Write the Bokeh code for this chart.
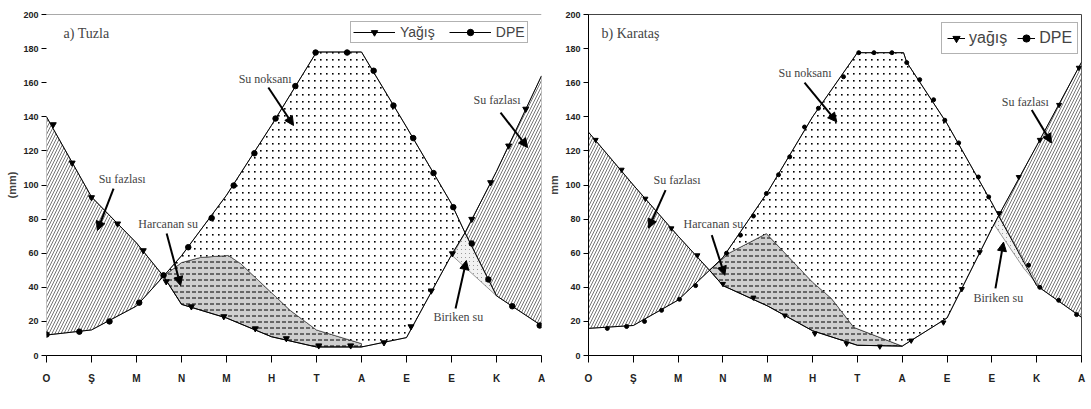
from bokeh.plotting import figure
from bokeh.layouts import row
from bokeh.models import (FixedTicker, Label, Arrow, NormalHead, Span, Legend,
                          LegendItem, Range1d, CanvasTexture)
from bokeh.embed import file_html
from bokeh.resources import INLINE

# ---------------- data ----------------
months = ["O", "Ş", "M", "N", "M", "H", "T", "A", "E", "E", "K", "A"]
month_pos = list(range(12))
y_ticks = [0, 20, 40, 60, 80, 100, 120, 140, 160, 180, 200]

# a) Tuzla  (x in month units, y in mm)
tz_precip_x = [0, 1, 2, 2.6, 3, 4, 5, 6, 7, 8, 9, 9.3, 10, 11]
tz_precip_y = [140, 93, 66, 46.5, 30, 22, 11, 5, 5, 10.5, 59, 72, 108, 164]
tz_dpe_x = [0, 1, 2, 2.6, 3, 4, 5, 6, 7, 8, 9, 9.3, 10, 11]
tz_dpe_y = [12, 15, 29, 46.5, 58.5, 94, 135, 178, 178, 134, 89, 72, 35, 17.5]
tz_aet_x = [2.6, 3.0, 3.42, 4.04, 4.31, 5.42, 6.0, 7.0]
tz_aet_y = [46.5, 54.5, 57.5, 58.7, 54, 26.4, 15, 7]
tz_recharge_x = [9.02, 9.3, 10.0]
tz_recharge_y = [58.5, 72, 35]
tz_precip_mx = [0.15, 0.57, 1.0, 1.58, 2.15, 2.66, 3.22, 3.94, 4.64, 5.33, 6.05,
                6.76, 7.5, 8.1, 8.55, 9.02, 9.45, 9.87, 10.27, 10.65]
tz_precip_my = [135.5, 113, 92.7, 77.3, 61.6, 43.4, 28.7, 22.9, 15.8, 10, 5.8,
                5.8, 7.6, 17, 38, 59.8, 80, 101.5, 123, 144.6]
tz_dpe_mx = [0, 0.73, 1.4, 2.06, 2.6, 3.15, 3.67, 4.16, 4.62, 5.09, 5.53, 5.98,
             6.68, 7.27, 7.71, 8.15, 8.6, 9.04, 9.45, 9.82, 10.35, 10.96]
tz_dpe_my = [12.3, 14, 20, 31, 47, 63.5, 80.6, 99.7, 118.6, 139, 158, 177.7,
             177.7, 167, 146.6, 127.5, 107, 87, 65.7, 44.6, 28.9, 17.6]
tz_cross = [2.6, 7.0, 9.3]   # surplus end, storage-use end, deficit end

# b) Karataş
kr_precip_x = [0, 1, 2, 2.7, 3, 4, 5, 6, 7, 8, 9, 9.15, 10, 11]
kr_precip_y = [131, 100, 70, 50, 41, 29, 14.5, 6, 5.5, 22, 74.5, 82, 123, 172]
kr_dpe_x = [0, 1, 2, 2.7, 3, 4, 5, 6, 7.03, 7.1, 8, 9, 9.15, 10, 11]
kr_dpe_y = [15.9, 17.6, 32.5, 50, 57.5, 96, 140, 177.6, 177.6, 172, 136, 89.5, 82, 41, 22.4]
kr_aet_x = [2.7, 3.13, 3.97, 5.0, 5.42, 5.92, 7.0]
kr_aet_y = [50, 60, 71.5, 43, 33.5, 16.5, 5.5]
kr_recharge_x = [9.06, 9.15, 10.07, 9.71]
kr_recharge_y = [76.5, 82, 40, 51.2]
kr_precip_mx = [0.16, 0.74, 1.27, 1.85, 2.43, 3.0, 3.68, 4.38, 5.05, 5.76, 6.5,
                7.2, 7.92, 8.33, 8.73, 9.17, 9.6, 10.07, 10.5, 10.94]
kr_precip_my = [126.5, 109, 92, 74.6, 58.8, 42, 34, 23.5, 12.9, 7, 5.3,
                8.8, 19.4, 39, 60.6, 83.5, 104.7, 126.5, 147, 168.8]
kr_dpe_mx = [0.42, 0.85, 1.25, 1.63, 2.03, 2.39, 3.08, 3.39, 3.68, 3.97, 4.24, 4.49,
             4.82, 5.13, 5.69, 6.03, 6.37, 6.77, 7.1, 7.39, 7.7, 7.95, 8.26, 8.7,
             8.93, 9.82, 10.07, 10.49, 10.89]
kr_dpe_my = [15.9, 17, 20, 26.5, 33, 41, 60, 70.6, 81.8, 95, 106, 116.5,
             134, 145, 163.5, 177.6, 177.6, 177.6, 171.8, 161.8, 150, 138, 124.7, 104.7,
             93, 53, 40, 32.4, 24]
kr_cross = [2.7, 7.0, 9.15]

# annotations: (text, x, y, arrow x0, y0, x1, y1)
tz_notes = [("Su fazlası", 1.16, 103.8, 1.49, 97.9, 1.13, 73.3),
            ("Harcanan su", 2.04, 77.4, 2.67, 71.6, 2.98, 41),
            ("Su noksanı", 4.27, 161.9, 4.93, 157.2, 5.49, 134.9),
            ("Su fazlası", 9.49, 149.6, 10.09, 142.5, 10.69, 122),
            ("Biriken su", 8.6, 22.3, 9.09, 27.6, 9.33, 55.7)]
kr_notes = [("Su fazlası", 1.45, 102.9, 1.72, 97, 1.34, 74.7),
            ("Harcanan su", 2.12, 77, 2.75, 70.6, 3.04, 47),
            ("Su noksanı", 4.24, 165.9, 4.82, 160, 5.54, 137),
            ("Su fazlası", 9.22, 148.8, 9.89, 144, 10.33, 124.7),
            ("Biriken su", 8.59, 34, 9.08, 39.4, 9.26, 66.5)]

DOT_CODE = """
ctx.canvas.width = 6;
ctx.canvas.height = 7;
ctx.fillStyle = "#000000";
ctx.fillRect(2, 3, 1.6, 1.6);
"""
SPARSE_CODE = """
ctx.canvas.width = 4;
ctx.canvas.height = 4;
ctx.fillStyle = "#9a9a9a";
ctx.fillRect(1, 1, 1, 1);
"""


def seg(xs, ys, a, b):
    return [(x, y) for x, y in zip(xs, ys) if a - 1e-9 <= x <= b + 1e-9]


def build(title, title_x, px, py, dx, dy, ax, ay, rx, ry, pmx, pmy, dmx, dmy, cross,
          notes, labels, left_border, right_border, y_label, first, leg):
    c1, c2, c3 = cross
    p = figure(frame_width=495 if first else 493, frame_height=341,
               min_border_left=left_border, min_border_right=right_border,
               min_border_top=14, min_border_bottom=54,
               x_range=Range1d(0, 11), y_range=Range1d(0, 200),
               output_backend="svg", toolbar_location=None)
    p.grid.visible = False
    p.background_fill_color = "white"
    p.border_fill_color = "white"
    dots = CanvasTexture(code=DOT_CODE, repetition="repeat")
    sparse = CanvasTexture(code=SPARSE_CODE, repetition="repeat")

    def poly(pts, **kw):
        p.patch([q[0] for q in pts], [q[1] for q in pts], **kw)

    # surplus (left)
    poly(seg(px, py, 0, c1) + seg(dx, dy, 0, c1)[::-1],
         fill_color="white", hatch_pattern="/", hatch_scale=6, hatch_weight=0.7,
         hatch_color="#3a3a3a", line_color="#555555", line_width=0.6)
    # storage used
    poly(seg(ax, ay, c1, c2) + seg(px, py, c1, c2)[::-1],
         fill_color="#cfcfcf", hatch_pattern='"', hatch_scale=6, hatch_weight=1.0,
         hatch_color="black", line_color="black", line_width=0.8)
    # deficit
    poly(seg(dx, dy, c1, c3) + seg(px, py, c2, c3)[::-1] + seg(ax, ay, c1, c2)[::-1],
         fill_color="white", hatch_pattern="dots", hatch_extra={"dots": dots},
         hatch_scale=6, hatch_weight=1,
         hatch_color="black", line_color="#333333", line_width=0.6)
    # surplus (right)
    poly(seg(px, py, c3, 11) + seg(dx, dy, c3, 11)[::-1],
         fill_color="white", hatch_pattern="/", hatch_scale=6, hatch_weight=0.7,
         hatch_color="#3a3a3a", line_color="#555555", line_width=0.6)
    # recharge
    p.patch(rx, ry, fill_color="#f2f2f2", hatch_pattern="sparse",
            hatch_extra={"sparse": sparse}, hatch_scale=4, hatch_weight=1,
            hatch_color="#8a8a8a", line_color="#555555", line_width=0.6)

    lp = p.line(px, py, line_color="black", line_width=1)
    ld = p.line(dx, dy, line_color="black", line_width=1)
    if first:
        sp = p.scatter(pmx, pmy, marker="inverted_triangle", size=6, color="black")
        sd = p.scatter(dmx, dmy, marker="circle", size=5.5, color="black")
    else:
        sp = p.scatter(pmx, pmy, marker="inverted_triangle", size=5, color="black")
        sd = p.scatter(dmx, dmy, marker="circle", size=4, color="black")

    legend = Legend(items=[LegendItem(label=labels[0], renderers=[lp, sp]),
                           LegendItem(label=labels[1], renderers=[ld, sd])],
                    orientation="horizontal", location=leg["loc"],
                    label_text_font="Liberation Sans", label_text_font_size=leg["font"],
                    glyph_width=leg["gw"], glyph_height=leg["gh"],
                    label_height=leg["gh"], label_standoff=leg["standoff"],
                    spacing=leg["spacing"], padding=leg["pad"], margin=0,
                    border_line_color="#666666", border_line_width=1,
                    background_fill_alpha=1.0)
    p.add_layout(legend)

    # axes
    p.xaxis.ticker = FixedTicker(ticks=month_pos)
    p.xaxis.major_label_overrides = {i: m for i, m in zip(month_pos, months)}
    p.yaxis.ticker = FixedTicker(ticks=y_ticks)
    for ax_ in (p.xaxis[0], p.yaxis[0]):
        ax_.minor_tick_line_color = None
        ax_.major_tick_in = 0
        ax_.major_label_text_font = "Liberation Sans"
        ax_.major_label_text_font_style = "bold"
        ax_.major_label_text_color = "#222222"
        ax_.axis_line_color = "black"
        ax_.major_tick_line_color = "black"
    p.xaxis.major_tick_out = 7
    p.xaxis.major_label_standoff = 10
    p.xaxis.major_label_text_font_size = "10px"
    p.yaxis.major_tick_out = 5
    p.yaxis.major_label_standoff = 3
    p.yaxis.major_label_text_font_size = "9px"
    p.yaxis.axis_label = y_label
    p.yaxis.axis_label_standoff = 2
    p.yaxis.axis_label_text_font = "Liberation Sans"
    p.yaxis.axis_label_text_font_style = "bold"
    p.yaxis.axis_label_text_font_size = "11px"
    if first:
        p.yaxis.axis_line_color = None
        p.outline_line_color = None
        p.add_layout(Span(location=200, dimension="width", line_color="#555555",
                          line_width=1.2))
    else:
        p.outline_line_color = "#444444"
        p.outline_line_width = 1

    p.add_layout(Label(x=6, y=-22.3, text="Aylar", text_align="center",
                       text_baseline="middle", text_font="Liberation Sans",
                       text_font_style="bold", text_font_size="12px"))
    p.add_layout(Label(x=title_x, y=189, text=title, text_baseline="middle",
                       text_font="Liberation Serif", text_font_size="14px"))
    for t, x, y, x0, y0, x1, y1 in notes:
        p.add_layout(Label(x=x, y=y, text=t, text_baseline="middle",
                           text_font="Liberation Serif", text_font_size="12px"))
        p.add_layout(Arrow(x_start=x0, y_start=y0, x_end=x1, y_end=y1,
                           line_width=2, line_color="black",
                           end=NormalHead(size=9, fill_color="black",
                                          line_color="black")))
    return p


p1 = build("a) Tuzla", 0.38, tz_precip_x, tz_precip_y, tz_dpe_x, tz_dpe_y, tz_aet_x,
           tz_aet_y, tz_recharge_x, tz_recharge_y, tz_precip_mx, tz_precip_my,
           tz_dpe_mx, tz_dpe_my, tz_cross, tz_notes, ["Yağış", "DPE"], 46, 4, "(mm)", True,
           dict(loc=(304, 312), font="14px", gw=42, gh=16, standoff=5, spacing=14, pad=2))
p2 = build("b) Karataş", 0.29, kr_precip_x, kr_precip_y, kr_dpe_x, kr_dpe_y, kr_aet_x,
           kr_aet_y, kr_recharge_x, kr_recharge_y, kr_precip_mx, kr_precip_my,
           kr_dpe_mx, kr_dpe_my, kr_cross, kr_notes, ["yağış", "DPE"], 42, 11, "mm", False,
           dict(loc=(353, 301), font="16px", gw=18, gh=20, standoff=4, spacing=10, pad=5))

layout = row(p1, p2, spacing=0)
open("out.html", "w").write(file_html(layout, INLINE))
